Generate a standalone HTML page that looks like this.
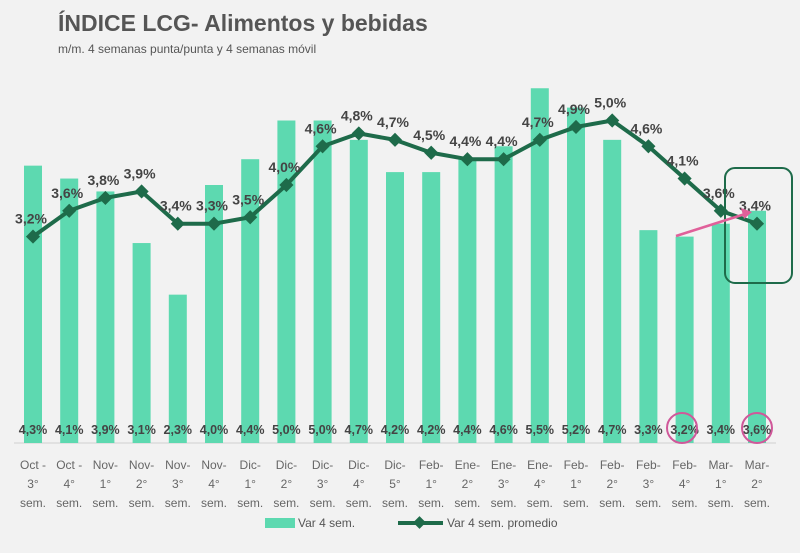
<!DOCTYPE html>
<html><head><meta charset="utf-8"><style>
body{margin:0;background:#f2f2f2;font-family:"Liberation Sans",sans-serif}
svg{display:block}
</style></head><body>
<svg id="c" width="800" height="553">
<text x="58" y="31" font-size="23" font-weight="bold" fill="#555">ÍNDICE LCG- Alimentos y bebidas</text>
<text x="58" y="53" font-size="12" fill="#555">m/m. 4 semanas punta/punta y 4 semanas móvil</text>
<line x1="14" y1="443" x2="776" y2="443" stroke="#d0d0d0"/>
<g id="bars"></g><g id="line"></g><g id="lbl"></g>
<rect x="725" y="168" width="67" height="115" rx="10" fill="none" stroke="#1e6b4a" stroke-width="2"/>
<line x1="676" y1="236" x2="745" y2="214" stroke="#e0609a" stroke-width="2.5"/>
<polygon points="752,212 741,208 744,219" fill="#e0609a"/>
<circle cx="682" cy="428" r="15" fill="none" stroke="#d0589a" stroke-width="2"/>
<circle cx="757" cy="428" r="15" fill="none" stroke="#d0589a" stroke-width="2"/>
<rect x="265" y="518" width="30" height="10" fill="#5dd9b0"/>
<text x="298" y="527" font-size="12" fill="#555">Var 4 sem.</text>
<line x1="398" y1="523" x2="443" y2="523" stroke="#1e6b4a" stroke-width="4"/>
<rect x="415" y="518" width="9" height="9" fill="#1e6b4a" transform="rotate(45 419.5 522.5)"/>
<text x="447" y="527" font-size="12" fill="#555">Var 4 sem. promedio</text>
</svg>
<script>
const cats1=["Oct -","Oct -","Nov-","Nov-","Nov-","Nov-","Dic-","Dic-","Dic-","Dic-","Dic-","Feb-","Ene-","Ene-","Ene-","Feb-","Feb-","Feb-","Feb-","Mar-","Mar-"];
const cats2=["3°","4°","1°","2°","3°","4°","1°","2°","3°","4°","5°","1°","2°","3°","4°","1°","2°","3°","4°","1°","2°"];
const barVals=[4.3,4.1,3.9,3.1,2.3,4.0,4.4,5.0,5.0,4.7,4.2,4.2,4.4,4.6,5.5,5.2,4.7,3.3,3.2,3.4,3.6];
const lineVals=[3.2,3.6,3.8,3.9,3.4,3.4,3.5,4.0,4.6,4.8,4.7,4.5,4.4,4.4,4.7,4.9,5.0,4.6,4.1,3.6,3.4];
const lineLabels=["3,2%","3,6%","3,8%","3,9%","3,4%","3,3%","3,5%","4,0%","4,6%","4,8%","4,7%","4,5%","4,4%","4,4%","4,7%","4,9%","5,0%","4,6%","4,1%","3,6%","3,4%"];
const NS="http://www.w3.org/2000/svg";
const x=i=>33+i*36.2, y=v=>443-64.5*v;
const fmt=v=>v.toFixed(1).replace('.',',')+'%';
function mk(t,a,p){const e=document.createElementNS(NS,t);for(const k in a)e.setAttribute(k,a[k]);p.appendChild(e);return e;}
const B=document.getElementById('bars'),L=document.getElementById('line'),T=document.getElementById('lbl');
barVals.forEach((v,i)=>{
 const r=mk('rect',{x:x(i)-9,y:y(v),width:18,height:443-y(v),fill:'#5dd9b0'},B);
 
 
 const t=mk('text',{x:x(i),y:434,'font-size':12.5,'font-weight':'bold','text-anchor':'middle',fill:'#444'},T);t.textContent=fmt(v);
 
 
 [cats1[i],cats2[i],'sem.'].forEach((s,k)=>{const c=mk('text',{x:x(i),y:469+k*19,'font-size':12,'text-anchor':'middle',fill:'#666'},T);c.textContent=s;
 
 });
});
const pl=mk('polyline',{points:lineVals.map((v,i)=>x(i)+','+y(v)).join(' '),fill:'none',stroke:'#1e6b4a','stroke-width':4,'stroke-linejoin':'round'},L);


lineVals.forEach((v,i)=>{
 const m=mk('rect',{x:x(i)-5,y:y(v)-5,width:10,height:10,fill:'#1e6b4a',transform:`rotate(45 ${x(i)} ${y(v)})`},L);
 
 
 const t=mk('text',{x:x(i)-2,y:y(v)-13,'font-size':14,'font-weight':'bold','text-anchor':'middle',fill:'#444'},T);t.textContent=lineLabels[i];
 
 
});
</script>
</body></html>
